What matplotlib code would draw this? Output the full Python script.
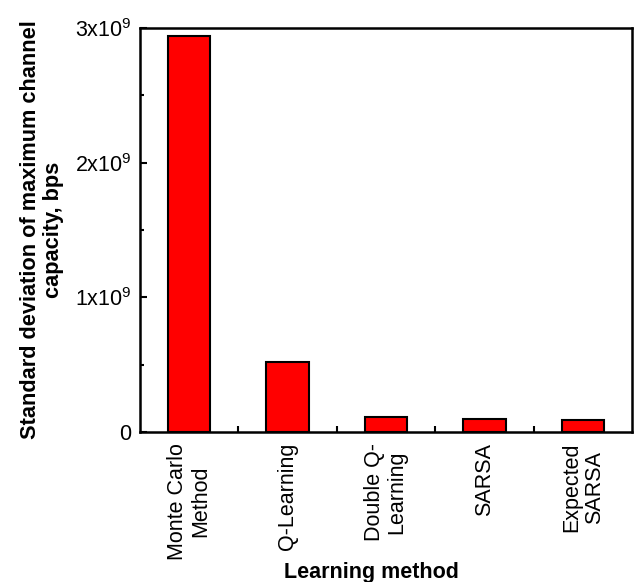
import matplotlib.pyplot as plt
import numpy as np
from matplotlib.ticker import FixedLocator, MultipleLocator

plt.rcParams['font.family'] = ['Liberation Sans', 'DejaVu Sans']
plt.rcParams['mathtext.default'] = 'regular'

methods = ['Monte Carlo\nMethod', 'Q-Learning', 'Double Q-\nLearning', 'SARSA', 'Expected\nSARSA']
std_capacity = [2.94e9, 0.52e9, 0.11e9, 0.094e9, 0.091e9]
yticks = [0, 1e9, 2e9, 3e9]
ytick_labels = ['0', '1x10$^9$', '2x10$^9$', '3x10$^9$']

fig = plt.figure(figsize=(6.41, 5.82), dpi=100)
ax = fig.add_axes([0.218, 0.258, 0.768, 0.694])

x = np.arange(len(methods))
ax.bar(x, std_capacity, width=0.43, color='#ff0000', edgecolor='black', linewidth=1.5)

ax.set_xlim(-0.5, 4.5)
ax.set_ylim(0, 3e9)
ax.set_yticks(yticks)
ax.set_yticklabels(ytick_labels, fontsize=15.5)
ax.yaxis.set_minor_locator(MultipleLocator(0.5e9))

ax.set_xticks(x)
ax.set_xticklabels(methods, rotation=90, fontsize=15.5, ha='center', va='top',
                   multialignment='center', linespacing=1.1)
ax.xaxis.set_minor_locator(FixedLocator(x[:-1] + 0.5))

ax.tick_params(axis='both', which='both', direction='in', width=1.5)
ax.tick_params(axis='y', which='major', length=5, pad=6)
ax.tick_params(axis='y', which='minor', length=3)
ax.tick_params(axis='x', which='major', length=0, pad=8)
ax.tick_params(axis='x', which='minor', length=4)

for side in ax.spines.values():
    side.set_linewidth(1.8)

ax.set_xlabel('Learning method', fontsize=15.5, fontweight='bold')
ax.xaxis.set_label_coords(0.47, -0.322)
ax.set_ylabel('Standard deviation of maximum channel\ncapacity, bps',
              fontsize=15.7, fontweight='bold', labelpad=8, linespacing=1.1)

fig.savefig('out.png', dpi=100)
